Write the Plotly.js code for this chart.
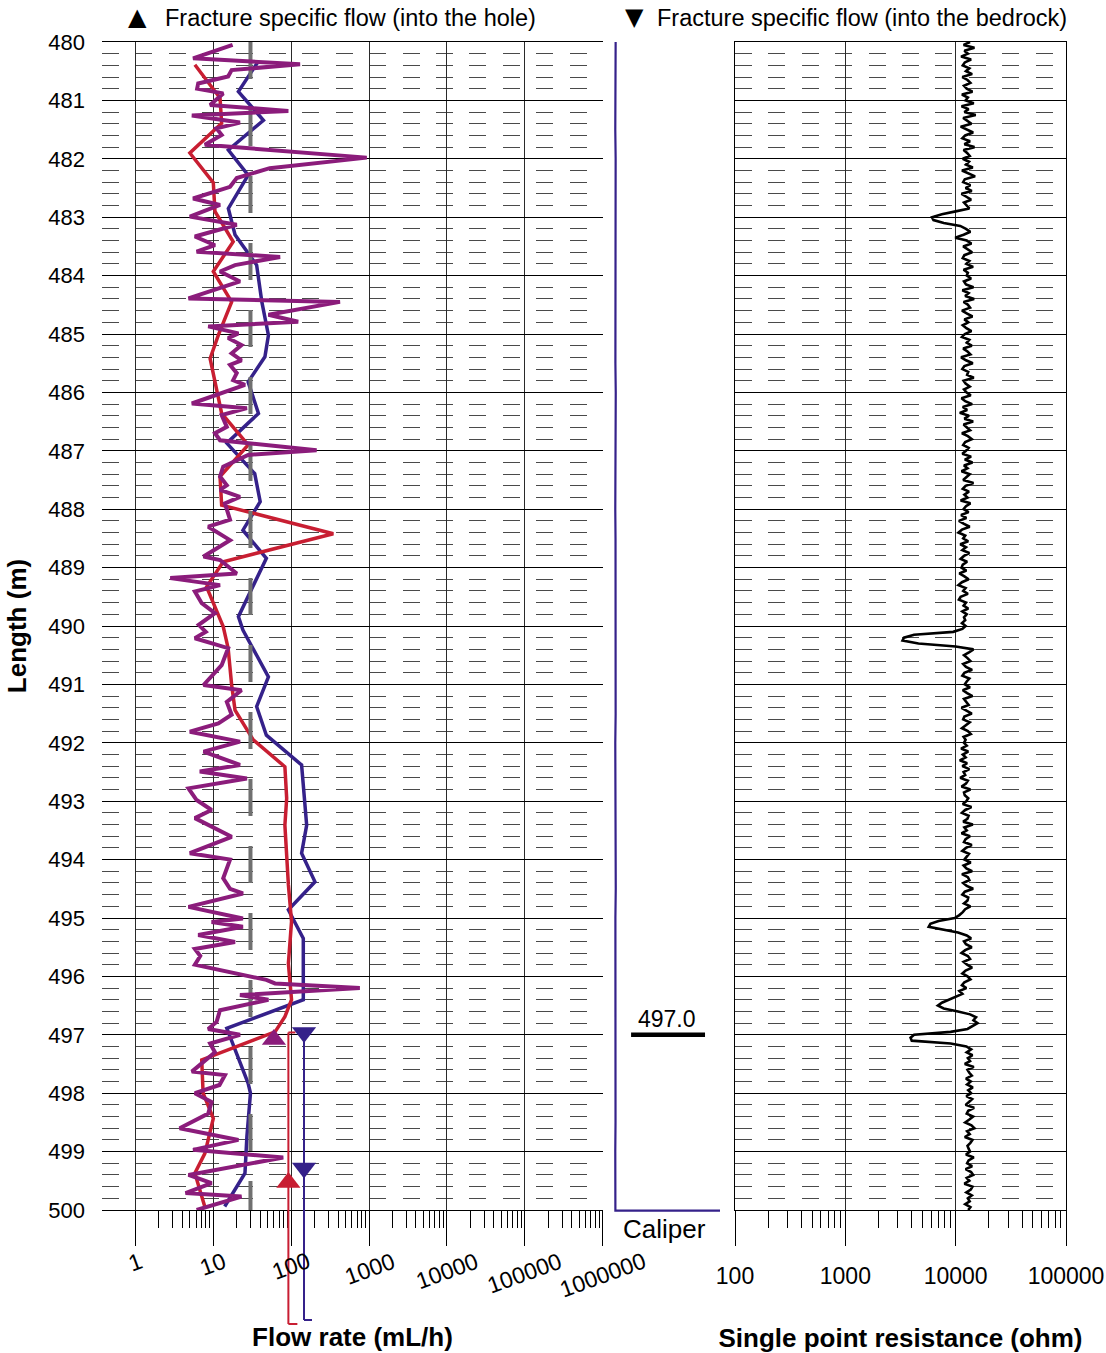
<!DOCTYPE html>
<html>
<head>
<meta charset="utf-8">
<script src="https://cdn.plot.ly/plotly-3.0.1.min.js"></script>
<style>html,body{margin:0;padding:0;background:#fff;}#chart{width:1106px;height:1353px;}</style>
</head>
<body>
<div id="chart"></div>
<script>
// ---------------- DATA ----------------
// Left panel: flow rate (mL/h) versus length (m)
const redDepth = [480.39,480.96,481.39,481.90,482.41,482.90,483.42,483.93,484.45,485.02,485.42,486.36,486.90,487.44,487.93,488.42,488.90,489.33,490.01,490.38,491.01,491.44,491.95,492.41,492.95,493.41,494.43,495.06,495.78,496.40,496.69,496.95,497.43,498.00,498.43,499.03,499.37,499.95];
const redFlow  = [5.8,12.2,12.8,5.0,10,10.5,18,10,17.2,11.6,9.1,12.8,28,12.2,12.8,347,13.4,8.2,13.4,15.5,17.2,19,32.6,83,87.5,83,92,101,92,101,83,62,7.1,7.4,10,7.8,5.8,7.8];

const blueDepth = [480.35,480.85,481.34,481.85,482.28,482.85,483.30,483.82,484.45,485.02,485.39,485.82,486.36,486.87,487.39,487.87,488.36,488.84,489.84,490.07,490.87,491.38,491.87,492.38,493.41,493.89,494.38,494.86,495.03,495.35,496.40,496.89,497.83,498.00,498.74,499.37,499.94];
const blueFlow  = [37,21,44,15.6,28,15.6,19,36,42,51,46,28,38,14.9,34,40,24,48,21,24,51,36,48,136,158,136,202,92,107,143,143,14.9,28,30,27,25.5,14];

const purpleDepth = [480.05,480.28,480.38,480.48,480.59,480.71,480.80,480.88,481.08,481.18,481.26,481.38,481.48,481.59,481.76,481.98,482.16,482.33,482.48,482.68,482.79,482.99,483.13,483.33,483.48,483.59,483.68,483.82,483.93,484.10,484.39,484.45,484.67,484.79,484.87,484.99,485.07,485.19,485.33,485.45,485.53,485.67,485.79,485.87,486.19,486.27,486.39,486.59,486.70,486.82,486.99,487.07,487.27,487.44,487.59,487.67,487.79,487.90,488.18,488.30,488.53,488.81,488.87,489.10,489.18,489.30,489.41,489.61,489.78,489.98,490.10,490.21,490.38,490.67,491.01,491.10,491.30,491.52,491.67,491.81,491.98,492.15,492.38,492.49,492.61,492.78,492.98,493.15,493.29,493.61,493.89,494.00,494.32,494.50,494.58,494.81,495.01,495.07,495.15,495.29,495.41,495.53,495.65,495.80,496.06,496.12,496.20,496.32,496.40,496.58,496.78,496.90,497.00,497.15,497.30,497.40,497.63,497.69,497.86,498.00,498.15,498.35,498.60,498.80,498.97,499.10,499.40,499.54,499.71,499.77,500.00];
const purpleFlow  = [17.7,5.5,130,17.2,15.5,6.4,6.2,13.4,9.1,92,5.3,22,11,12.8,7.8,933,53,20,16.4,5.5,12.2,5.0,20,5.8,10.5,6.1,72,19,12.2,22,4.8,423,51,123,8.6,21,15.5,23,17.2,23,16.4,20,18,25.5,5.3,27,12.8,14.9,10.5,12.2,212,28,13.4,12.2,14.9,12.2,22,14.1,16.4,8.6,16.4,7.5,12.2,20,2.8,12.2,5.8,7.1,10.5,6.5,8,5.8,15.5,12.8,7.5,23,14.9,17.2,11.6,5.0,22,7.5,22,6.7,27,4.8,6.1,9.5,5.8,17.2,5.0,16.4,13.4,16.4,24,4.8,24,9.5,24,6.4,19,5.8,6.8,5.8,48,62,760,22,51,12.2,11.0,8.6,22,9.1,10.5,8.6,5.3,14.1,12,5.8,9.5,8.6,3.7,21,5.5,79,4.8,9.5,4.4,23,6.1];

// Lower limit line (mL/h)
const limitDepth = [480, 500];
const limitFlow  = [30, 30];

// Fracture specific flow markers
const intoHoleDepth = [497.08, 499.53];
const intoHoleFlow  = [60, 92];
const intoHoleColor = ['#8b1c7b', '#c81e32'];
const intoRockDepth = [496.96, 499.28];
const intoRockFlow  = [146, 146];

// Fracture flow bars
const redBarFlow = 92,  redBarTop = 496.96;
const blueBarFlow = 146, blueBarTop = 497.0;

// Caliper
const caliperDepth = [480,480.5,481,481.5,482,482.5,483,483.5,484,484.5,485,485.5,486,486.5,487,487.5,488,488.5,489,489.5,490,490.5,491,491.5,492,492.5,493,493.5,494,494.5,495,495.5,496,496.5,497,497.5,498,498.5,499,499.5,499.98,500.01,500.01];
const caliperVal   = [0.108,0.106,0.109,0.105,0.108,0.107,0.106,0.109,0.107,0.105,0.108,0.106,0.109,0.107,0.106,0.108,0.105,0.107,0.108,0.106,0.107,0.109,0.106,0.108,0.105,0.107,0.108,0.106,0.107,0.109,0.106,0.107,0.108,0.105,0.107,0.106,0.108,0.107,0.105,0.106,0.106,0.106,1.0];
const caliperMark = 497.0;

// Single point resistance (ohm), sampled every 0.05 m from 480.00 m
const sprTop = 480, sprStep = 0.05;
const sprOhm = [
 13500,11800,14800,12000,12900,11200,13800,12100,11600,13300,12400,14100,11500,12800,13600,11900,12600,14200,11400,12900, // 480
 12300,14600,11300,13100,12000,15200,11700,12600,13900,11100,12800,14400,12200,11500,13500,12000,14800,11800,12700,13400, // 481
 11600,13200,12400,14300,11400,12900,15000,12100,11700,13600,12300,14000,11300,12500,13800,11900,12700,13300,10000,7500,  // 482
 6100,6300,7800,11000,12400,13600,11800,9900,12600,13900,11700,12800,14100,12000,11600,13300,12500,14400,11800,12900,    // 483
 12600,13800,11900,12400,14500,11500,13100,12200,14700,11800,12900,13500,11400,12700,14200,12000,13000,11600,12500,13900, // 484
 12100,11400,13300,12600,14000,11700,12800,13600,11200,12400,14300,12000,11500,13000,12700,14600,11800,12300,13400,11900, // 485
 12500,13700,11300,12200,14100,11600,12700,10900,13200,12000,14400,11800,12600,13500,11400,12900,14000,12200,11700,13100, // 486
 12400,11500,13800,12100,14200,11900,12800,11300,13400,12600,11700,14500,12300,11600,13200,12000,12800,11100,13600,12400, // 487
 11800,13100,11200,12500,10700,11900,13400,11400,10600,12200,11700,13000,11000,12400,11500,13300,11900,11100,12700,11600, // 488
 11300,12500,10800,12000,13100,11400,10600,12300,11700,12900,11100,10700,12400,11800,13000,11500,12600,11900,12200,11400, // 489
 12300,11500,9500,4200,3400,3300,4600,10000,14500,13200,11900,12800,13600,11700,12400,14100,12000,11500,13300,12600,      // 490
 12100,13500,11600,12700,14200,11900,12400,13100,11300,12800,14000,12000,11700,13400,12500,11400,12900,13700,11800,12300, // 491
 11900,12600,11200,13000,11600,12300,10900,12700,11500,13300,11800,12200,11000,12900,12400,11300,13600,11900,12100,13000, // 492
 12500,11600,13900,12200,11400,13100,12800,11700,14300,12000,12600,11300,13500,12300,11900,14000,12400,11500,13200,12700, // 493
 12000,13700,11800,12500,14100,11400,12900,13300,11700,12600,14400,12100,11500,13000,12800,11900,13600,12200,11600,10800, // 494
 9800,7000,5900,5700,7500,10500,12600,13800,11900,12400,14000,12200,11300,12900,13500,11800,12700,14100,12300,11500,      // 495
 12800,13600,12000,11400,12500,10800,11500,10000,8500,7500,6900,7800,10500,13500,15300,14500,15800,14000,12800,9000,      // 496
 4200,3900,4000,9000,12500,13800,12600,14200,12900,13500,12100,14600,12800,13300,14000,12400,13700,12700,14300,13000,     // 497
 13800,12500,14100,13200,12300,14700,13000,12600,14400,13300,12200,13900,14800,12700,13400,12100,14200,13600,12800,13100, // 498
 13500,12400,14600,13100,12700,14100,12300,13800,14400,12600,13300,12000,14200,13700,12500,14000,12900,13400,12200,13600, // 499
 13000
];

// Tick labels
const flowTicks = [1,10,100,1000,10000,100000,1000000];
const flowTickText = ['1','10','100','1000','10000','100000','1000000'];
const sprTicks = [100,1000,10000,100000];
const sprTickText = ['100','1000','10000','100000'];

// ---------------- LAYOUT HELPERS ----------------
const W = 1106, H = 1353;
const px2x = p => p / W;
const py2y = p => 1 - p / H;
const FONT = 'Liberation Sans, Arial, sans-serif';
const RED = '#c81e32', BLUE = '#35218a', PURPLE = '#8b1c7b', GRAY = '#707070';
const yDom = [py2y(1210), py2y(42)];
const depthToPaper = d => yDom[1] - (d - 480) / 20 * (yDom[1] - yDom[0]);

const sprDepth = sprOhm.map((_, i) => +(sprTop + i * sprStep).toFixed(2));

function minorLogTicks(lo, hi) {
  const out = [];
  for (let d = lo; d < hi; d *= 10) for (let k = 2; k <= 9; k++) out.push(d * k);
  return out;
}

const minorGrid = {tick0: 480, dtick: 0.2, showgrid: true, gridcolor: '#4a4a4a', gridwidth: 1, griddash: '17px,16.4px', ticks: ''};

// ---------------- TRACES ----------------
const traces = [
  {x: blueFlow, y: blueDepth, xaxis: 'x', yaxis: 'y', mode: 'lines', line: {color: BLUE, width: 3.5}},
  {x: redFlow, y: redDepth, xaxis: 'x', yaxis: 'y', mode: 'lines', line: {color: RED, width: 3.5}},
  {x: limitFlow, y: limitDepth, xaxis: 'x', yaxis: 'y', mode: 'lines', line: {color: GRAY, width: 4, dash: '37px,30px'}},
  {x: purpleFlow, y: purpleDepth, xaxis: 'x', yaxis: 'y', mode: 'lines', line: {color: PURPLE, width: 4}},
  {x: intoHoleFlow, y: intoHoleDepth, xaxis: 'x', yaxis: 'y', mode: 'markers',
   marker: {symbol: 'triangle-up', size: 21, color: intoHoleColor}, cliponaxis: false},
  {x: intoRockFlow, y: intoRockDepth, xaxis: 'x', yaxis: 'y', mode: 'markers',
   marker: {symbol: 'triangle-down', size: 21, color: BLUE}, cliponaxis: false},
  {x: caliperVal, y: caliperDepth, xaxis: 'x3', yaxis: 'y3', mode: 'lines', line: {color: BLUE, width: 2.2}},
  {x: sprOhm, y: sprDepth, xaxis: 'x2', yaxis: 'y2', mode: 'lines', line: {color: '#000', width: 2.6}}
];

// ---------------- ANNOTATIONS ----------------
const annotations = flowTicks.map((v, i) => ({
  xref: 'x', yref: 'paper', x: Math.log10(v), y: py2y(1245), xanchor: 'center', yanchor: 'top',
  text: flowTickText[i], showarrow: false, textangle: -20, font: {family: FONT, size: 23, color: '#000'}
}));
annotations.push(
  {xref: 'paper', yref: 'paper', x: px2x(137), y: py2y(17), xanchor: 'center', yanchor: 'middle', text: '▲', showarrow: false, font: {family: 'DejaVu Sans', size: 24, color: '#000'}},
  {xref: 'paper', yref: 'paper', x: px2x(163), y: py2y(18), xanchor: 'left', yanchor: 'middle', text: 'Fracture specific flow (into the hole)', showarrow: false, font: {family: FONT, size: 23.5, color: '#000'}},
  {xref: 'paper', yref: 'paper', x: px2x(634), y: py2y(17), xanchor: 'center', yanchor: 'middle', text: '▼', showarrow: false, font: {family: 'DejaVu Sans', size: 24, color: '#000'}},
  {xref: 'paper', yref: 'paper', x: px2x(655), y: py2y(18), xanchor: 'left', yanchor: 'middle', text: 'Fracture specific flow (into the bedrock)', showarrow: false, font: {family: FONT, size: 23.5, color: '#000'}},
  {xref: 'x3', yref: 'y3', x: 0.55, y: caliperMark, xanchor: 'center', yanchor: 'bottom', yshift: 1, text: caliperMark.toFixed(1), showarrow: false, font: {family: FONT, size: 23, color: '#000'}},
  {xref: 'paper', yref: 'paper', x: px2x(664), y: py2y(1229), xanchor: 'center', yanchor: 'middle', text: 'Caliper', showarrow: false, font: {family: FONT, size: 26, color: '#000'}}
);

// ---------------- SHAPES ----------------
const shapes = [
  {type: 'line', xref: 'x', yref: 'paper', x0: redBarFlow, x1: redBarFlow, y0: depthToPaper(redBarTop), y1: py2y(1324), line: {color: RED, width: 2}},
  {type: 'line', xref: 'x', xsizemode: 'pixel', xanchor: redBarFlow, x0: -7, x1: 7, yref: 'paper', y0: depthToPaper(redBarTop), y1: depthToPaper(redBarTop), line: {color: RED, width: 2}},
  {type: 'line', xref: 'x', xsizemode: 'pixel', xanchor: redBarFlow, x0: -12, x1: 9, yref: 'paper', y0: py2y(1324), y1: py2y(1324), line: {color: RED, width: 2}},
  {type: 'line', xref: 'x', yref: 'paper', x0: blueBarFlow, x1: blueBarFlow, y0: depthToPaper(blueBarTop), y1: py2y(1320), line: {color: BLUE, width: 2}},
  {type: 'line', xref: 'x', xsizemode: 'pixel', xanchor: blueBarFlow, x0: -6, x1: 8, yref: 'paper', y0: py2y(1320), y1: py2y(1320), line: {color: BLUE, width: 2}},
  {type: 'line', xref: 'x3', yref: 'y3', x0: 0.24, x1: 0.872, y0: caliperMark, y1: caliperMark, line: {color: '#000', width: 4.5}}
];

// ---------------- LAYOUT ----------------
const layout = {
  width: W, height: H,
  margin: {l: 0, r: 0, t: 0, b: 0, pad: 0},
  paper_bgcolor: '#fff', plot_bgcolor: 'rgba(0,0,0,0)',
  font: {family: FONT, color: '#000'},
  showlegend: false, hovermode: false,
  xaxis: {
    domain: [px2x(102), px2x(603)], anchor: 'y', type: 'log', range: [-0.429, 6.003],
    tickmode: 'array', tickvals: flowTicks, showticklabels: false,
    ticks: 'outside', ticklen: 35, tickcolor: '#000', tickwidth: 1,
    showgrid: true, gridcolor: '#2a2a2a', gridwidth: 1,
    showline: true, linecolor: '#000', linewidth: 1, mirror: true, zeroline: false,
    minor: {tickmode: 'array', tickvals: minorLogTicks(1, 1000000), ticks: 'outside', ticklen: 17, tickcolor: '#000', tickwidth: 1, showgrid: false},
    title: {text: '<b>Flow rate (mL/h)</b>', font: {family: FONT, size: 26, color: '#000'}, standoff: 82}
  },
  yaxis: {
    domain: yDom, anchor: 'x', range: [500, 480],
    tickmode: 'linear', tick0: 480, dtick: 1, ticks: '', ticklabelstandoff: 16,
    tickfont: {family: FONT, size: 22, color: '#000'},
    showgrid: true, gridcolor: '#000', gridwidth: 1, showline: false, zeroline: false,
    minor: minorGrid,
    title: {text: '<b>Length (m)</b>', font: {family: FONT, size: 26, color: '#000'}, standoff: 14}
  },
  xaxis2: {
    domain: [px2x(735), px2x(1066)], anchor: 'y2', type: 'log', range: [2, 5],
    tickmode: 'array', tickvals: sprTicks, ticktext: sprTickText,
    ticks: 'outside', ticklen: 35, tickcolor: '#000', tickwidth: 1, ticklabelstandoff: 10,
    tickfont: {family: FONT, size: 23, color: '#000'},
    showgrid: true, gridcolor: '#2a2a2a', gridwidth: 1,
    showline: true, linecolor: '#000', linewidth: 1, mirror: true, zeroline: false,
    minor: {tickmode: 'array', tickvals: minorLogTicks(100, 100000), ticks: 'outside', ticklen: 17, tickcolor: '#000', tickwidth: 1, showgrid: false},
    title: {text: '<b>Single point resistance (ohm)</b>', font: {family: FONT, size: 26, color: '#000'}, standoff: 46}
  },
  yaxis2: {
    domain: yDom, anchor: 'x2', range: [500, 480],
    tickmode: 'linear', tick0: 480, dtick: 1, ticks: '', showticklabels: false,
    showgrid: true, gridcolor: '#000', gridwidth: 1,
    showline: true, linecolor: '#000', linewidth: 1, mirror: true, zeroline: false,
    minor: minorGrid
  },
  xaxis3: {domain: [px2x(603), px2x(720)], anchor: 'y3', range: [0, 1], visible: false},
  yaxis3: {domain: [py2y(1213), py2y(42)], anchor: 'x3', range: [500.05, 480], visible: false},
  annotations: annotations,
  shapes: shapes
};

Plotly.newPlot('chart', traces, layout, {staticPlot: true, displayModeBar: false});
</script>
</body>
</html>
